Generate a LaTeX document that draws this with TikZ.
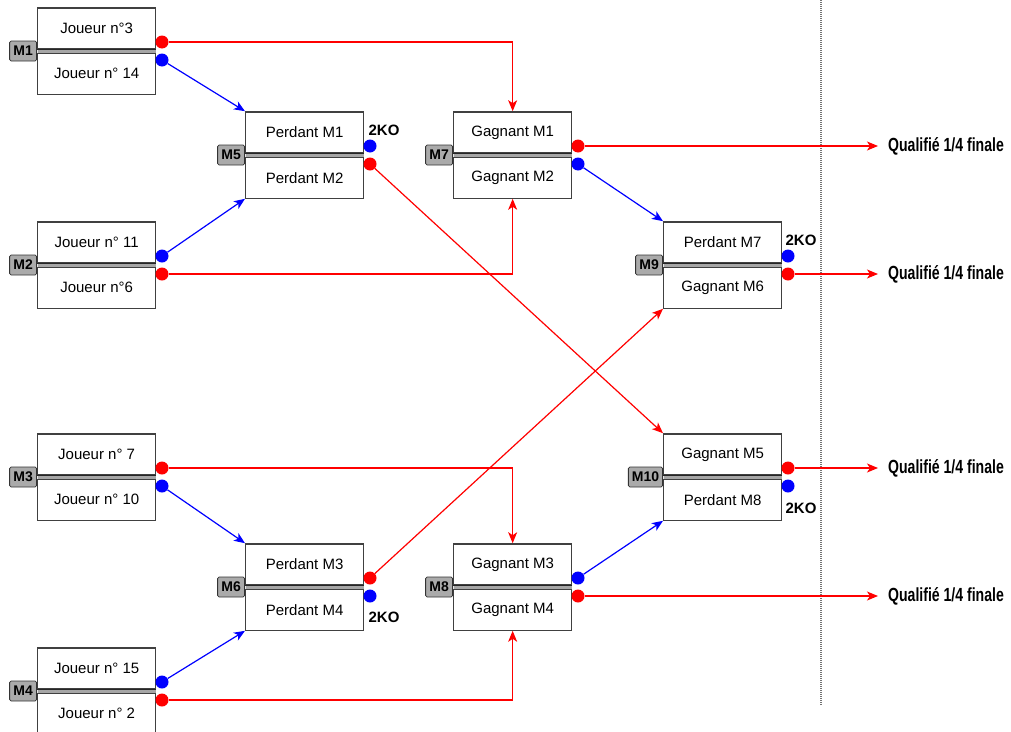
\documentclass[tikz,border=0pt]{standalone}
\usepackage{fontspec}
\setmainfont{Liberation Sans}
\newfontfamily\narrowf[FakeStretch=0.74]{Liberation Sans}
\usetikzlibrary{arrows.meta}
\definecolor{dotred}{RGB}{255,0,0}
\definecolor{dotblue}{RGB}{0,0,255}
\definecolor{lblgray}{RGB}{170,170,170}
\begin{document}
\begin{tikzpicture}[x=1pt,y=-1pt,
  half/.style={draw=black!75,fill=white,line width=1.3pt,minimum width=118pt,minimum height=41pt,inner sep=0pt,font=\fontsize{15}{18}\selectfont},
  mlabel/.style={draw=black!80,fill=lblgray,line width=0.8pt,rounded corners=1.5pt,minimum width=27pt,minimum height=20pt,inner xsep=3.5pt,inner ysep=0pt,font=\bfseries\fontsize{14}{16}\selectfont},
  dot/.style={circle,inner sep=0pt,minimum size=13pt},
  ko/.style={font=\bfseries\fontsize{15}{18}\selectfont,inner sep=0pt},
  qual/.style={anchor=west,inner xsep=10pt,inner ysep=0pt,font=\narrowf\bfseries\fontsize{19}{22}\selectfont},
  redline/.style={draw=dotred,line width=1.2pt,-{Stealth[length=11pt,width=9pt,inset=3pt]}},
  blueline/.style={draw=dotblue,line width=1.2pt,-{Stealth[length=11pt,width=9pt,inset=3pt]}},
]
\useasboundingbox (0,0) rectangle (1011,731);
\clip (0,0) rectangle (1011,731);

\newcommand\mymatch[8]{%
  \node[half,anchor=south west] (#1a) at (#2,#3-1.5) {#5};
  \node[half,anchor=north west] (#1b) at (#2,#3+1.5) {#6};
  \fill[black!35] ([xshift=0.6pt]#1a.south west) rectangle ([xshift=-0.6pt]#1b.north east);
  \draw[black!85,line width=1pt] (#1a.south west) -- (#1a.south east);
  \node[mlabel,anchor=east] (#1l) at (#2,#3) {#4};
  \node[dot,fill=#7] (#1u) at (#2+125,#3-9) {};
  \node[dot,fill=#8] (#1d) at (#2+125,#3+9) {};
}

\mymatch{m1}{37}{51}{M1}{Joueur n°3}{Joueur n° 14}{dotred}{dotblue}
\mymatch{m2}{37}{265}{M2}{Joueur n° 11}{Joueur n°6}{dotblue}{dotred}
\mymatch{m3}{37}{477}{M3}{Joueur n° 7}{Joueur n° 10}{dotred}{dotblue}
\mymatch{m4}{37}{691}{M4}{Joueur n° 15}{Joueur n° 2}{dotblue}{dotred}
\mymatch{m5}{245}{155}{M5}{Perdant M1}{Perdant M2}{dotblue}{dotred}
\mymatch{m6}{245}{587}{M6}{Perdant M3}{Perdant M4}{dotred}{dotblue}
\mymatch{m7}{453}{155}{M7}{Gagnant M1}{Gagnant M2}{dotred}{dotblue}
\mymatch{m8}{453}{587}{M8}{Gagnant M3}{Gagnant M4}{dotblue}{dotred}
\mymatch{m9}{663}{265}{M9}{Perdant M7}{Gagnant M6}{dotblue}{dotred}
\mymatch{m10}{663}{477}{M10}{Gagnant M5}{Perdant M8}{dotred}{dotblue}

\node[ko] (k5) at (384,130) {2KO};
\node[ko] (k6) at (384,617) {2KO};
\node[ko] (k9) at (801,240) {2KO};
\node[ko] (k10) at (801,508) {2KO};

\node[qual] (q1) at (878,146) {Qualifié 1/4 finale};
\node[qual] (q2) at (878,274) {Qualifié 1/4 finale};
\node[qual] (q3) at (878,468) {Qualifié 1/4 finale};
\node[qual] (q4) at (878,596) {Qualifié 1/4 finale};

\coordinate (vt) at (821,0);
\coordinate (vb) at (821,706);
\draw[black!55,line width=1.6pt,dash pattern=on 1pt off 1pt] (vt) -- (vb);

% connectors
\draw[redline] (m1u) -| (m7a.north);
\draw[blueline] (m1d) -- (m5a.north west);
\draw[blueline] (m2u) -- (m5b.south west);
\draw[redline] (m2d) -| (m7b.south);
\draw[redline] (m3u) -| (m8a.north);
\draw[blueline] (m3d) -- (m6a.north west);
\draw[blueline] (m4u) -- (m6b.south west);
\draw[redline] (m4d) -| (m8b.south);
\draw[redline] (m5d) -- (m10a.north west);
\draw[redline] (m6u) -- (m9b.south west);
\draw[blueline] (m7d) -- (m9a.north west);
\draw[blueline] (m8u) -- (m10b.south west);
\draw[redline] (m7u) -- (q1.west);
\draw[redline] (m9d) -- (q2.west);
\draw[redline] (m10u) -- (q3.west);
\draw[redline] (m8d) -- (q4.west);
\end{tikzpicture}
\end{document}
